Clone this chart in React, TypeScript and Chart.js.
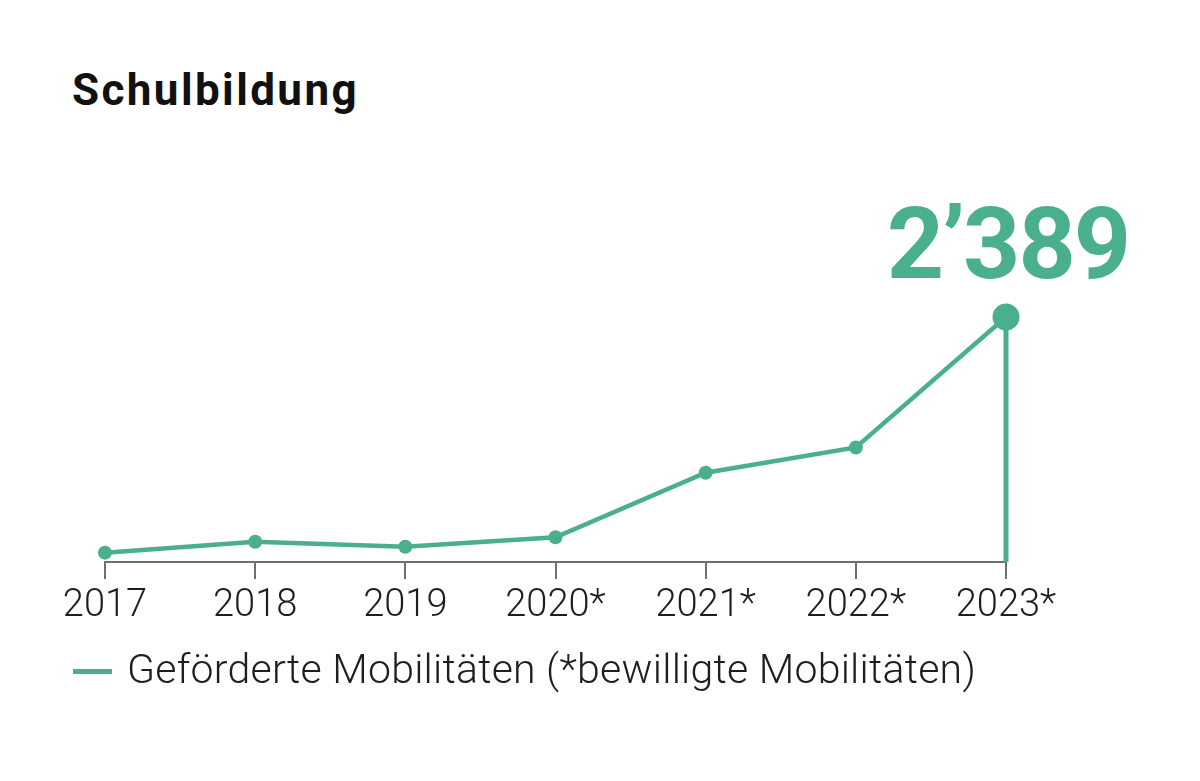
import React, { useEffect, useRef } from "react";
import { Chart, registerables } from "chart.js";

Chart.register(...registerables);

const categories = ["2017", "2018", "2019", "2020*", "2021*", "2022*", "2023*"];
const mobilitaeten = [91, 198, 149, 241, 870, 1117, 2389];
const highlightLabel = "2’389";
const titleText = "Schulbildung";
const legendText = "Geförderte Mobilitäten (*bewilligte Mobilitäten)";

const GREEN = "#4aaf8c";
const LIGHT_FONT = "Roboto, sans-serif";

const dropLinePlugin = {
  id: "dropLine",
  afterDatasetsDraw(chart: any) {
    const meta = chart.getDatasetMeta(0);
    const last = meta.data[meta.data.length - 1];
    if (!last) return;
    const ctx = chart.ctx;
    const bottom = chart.chartArea.bottom;
    ctx.save();
    ctx.strokeStyle = GREEN;
    ctx.lineWidth = 5;
    ctx.beginPath();
    ctx.moveTo(last.x, last.y);
    ctx.lineTo(last.x, bottom);
    ctx.stroke();
    ctx.fillStyle = GREEN;
    ctx.beginPath();
    ctx.arc(last.x, last.y, 13.5, 0, Math.PI * 2);
    ctx.fill();
    ctx.font = "bold 100px Roboto, sans-serif";
    (ctx as any).letterSpacing = "-2px";
    ctx.textAlign = "center";
    ctx.textBaseline = "alphabetic";
    ctx.fillText(highlightLabel, last.x + 2, last.y - 39);
    ctx.restore();
  },
};

export default function App() {
  const ref = useRef<HTMLCanvasElement | null>(null);
  useEffect(() => {
    document.body.style.margin = "0";
    const canvas = ref.current;
    if (!canvas) return;
    const chart = new Chart(canvas, {
      type: "line",
      data: {
        labels: categories,
        datasets: [
          {
            label: legendText,
            data: mobilitaeten,
            borderColor: GREEN,
            backgroundColor: GREEN,
            borderWidth: 4.5,
            pointRadius: [7, 7, 7, 7, 7, 7, 0],
            pointBorderWidth: 0,
            pointBackgroundColor: GREEN,
            tension: 0,
            clip: false as any,
          },
        ],
      },
      options: {
        responsive: false,
        animation: false,
        devicePixelRatio: 1,
        layout: { padding: { left: 105, right: 194, top: 317, bottom: 0 } },
        plugins: {
          legend: { display: false },
          title: { display: false },
          tooltip: { enabled: false },
        },
        scales: {
          x: {
            offset: false,
            afterFit(scale: any) {
              scale.height = 219;
            },
            border: { display: true, color: "#6f6f6f", width: 2 },
            grid: {
              drawOnChartArea: false,
              drawTicks: true,
              tickLength: 17,
              color: "#6f6f6f",
              lineWidth: 2,
            },
            ticks: {
              color: "#1e1e1e",
              padding: 5,
              maxRotation: 0,
              font: { family: LIGHT_FONT, size: 38, weight: "300" as any },
            },
          },
          y: {
            display: false,
            min: 0,
            max: 2389,
          },
        },
      },
      plugins: [dropLinePlugin],
    });
    return () => chart.destroy();
  }, []);

  return (
    <div style={{ position: "relative", width: 1200, height: 781, background: "#fff", overflow: "hidden" }}>
      <div
        style={{
          position: "absolute",
          left: 72,
          top: 68,
          font: "bold 44px Roboto, sans-serif",
          letterSpacing: "2.4px",
          lineHeight: "1",
          color: "#111",
          whiteSpace: "nowrap",
        }}
      >
        {titleText}
      </div>
      <canvas ref={ref} width={1200} height={781} style={{ position: "absolute", left: 0, top: 0 }} />
      <div
        style={{
          position: "absolute",
          left: 73,
          top: 669,
          width: 39,
          height: 5,
          background: GREEN,
        }}
      />
      <div
        style={{
          position: "absolute",
          left: 127,
          top: 649,
          font: `300 41px ${LIGHT_FONT}`,
          letterSpacing: "0.25px",
          lineHeight: "1",
          color: "#1e1e1e",
          whiteSpace: "nowrap",
        }}
      >
        {legendText}
      </div>
    </div>
  );
}
